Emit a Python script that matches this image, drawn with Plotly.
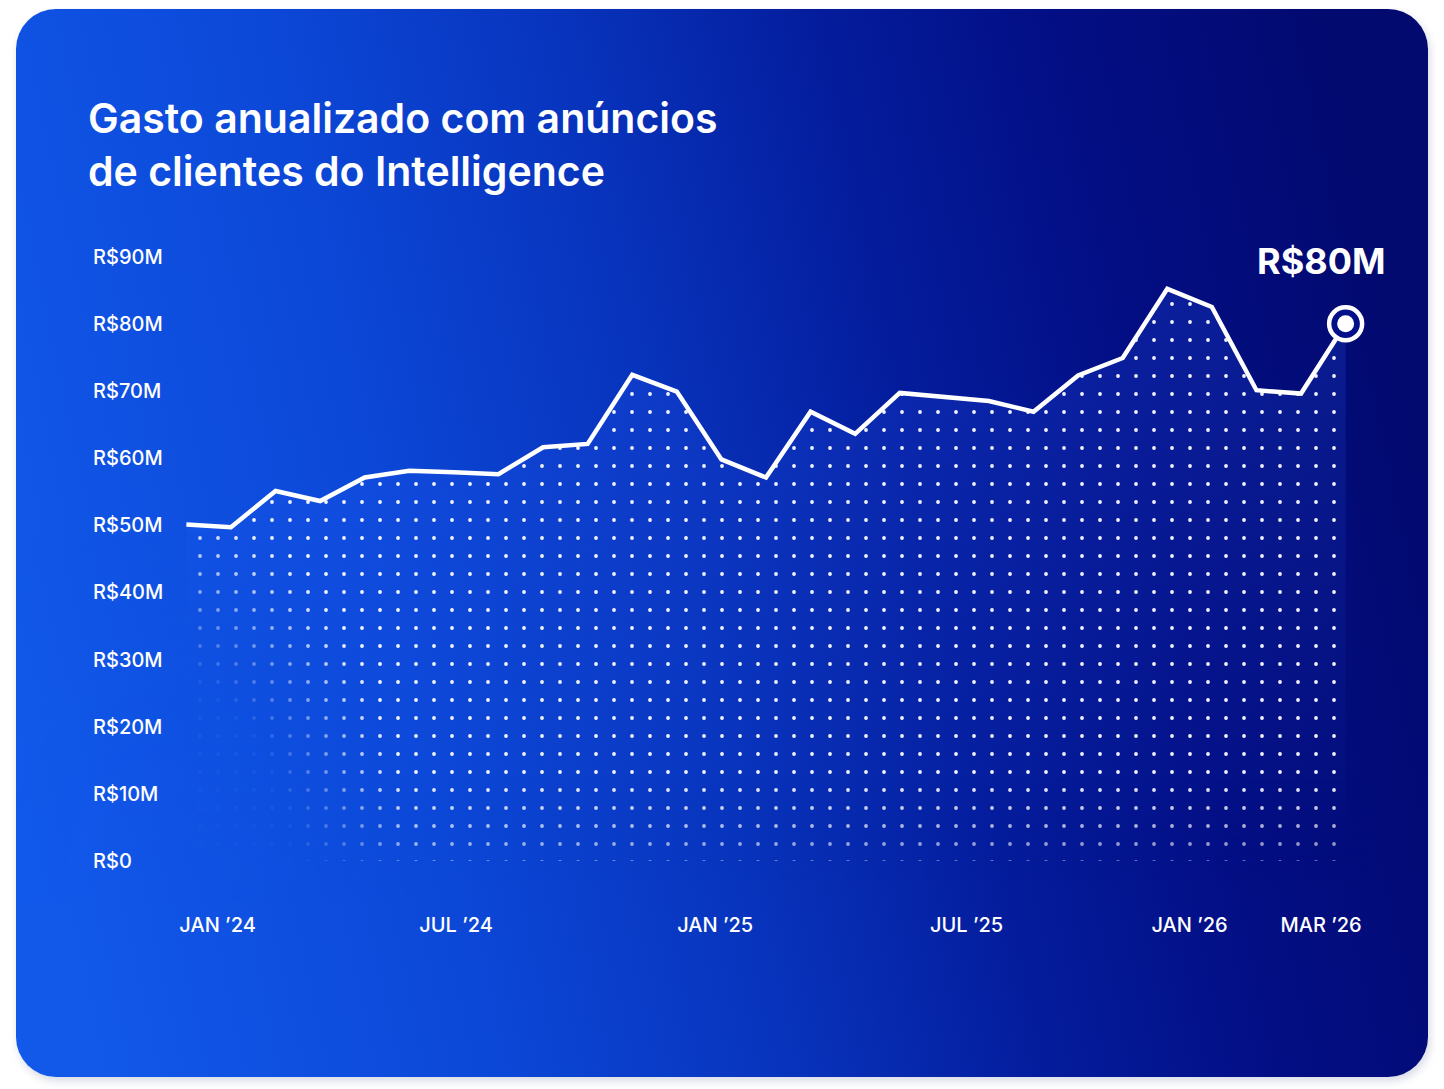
import base64
import plotly.graph_objects as go

W, H = 1444, 1089

months = ["Jan 2024", "Feb 2024", "Mar 2024", "Apr 2024", "May 2024", "Jun 2024",
          "Jul 2024", "Aug 2024", "Sep 2024", "Oct 2024", "Nov 2024", "Dec 2024",
          "Jan 2025", "Feb 2025", "Mar 2025", "Apr 2025", "May 2025", "Jun 2025",
          "Jul 2025", "Aug 2025", "Sep 2025", "Oct 2025", "Nov 2025", "Dec 2025",
          "Jan 2026", "Feb 2026", "Mar 2026"]
spend = [50.1, 49.7, 55.1, 53.6, 57.1, 58.1, 57.9, 57.6, 61.6, 62.1, 72.4, 69.9,
         59.8, 57.1, 66.9, 63.6, 69.7, 69.1, 68.5, 66.9, 72.3, 74.9, 85.2, 82.5,
         70.1, 69.6, 80.0]
month_idx = list(range(len(months)))

y_ticks = [0, 10, 20, 30, 40, 50, 60, 70, 80, 90]
y_labels = ["R$0", "R$10M", "R$20M", "R$30M", "R$40M", "R$50M",
            "R$60M", "R$70M", "R$80M", "R$90M"]
x_tick_pos = [0.7, 6.05, 11.86, 17.5, 22.5, 25.45]
x_tick_text = ["JAN ’24", "JUL ’24", "JAN ’25", "JUL ’25", "JAN ’26", "MAR ’26"]

title = "Gasto anualizado com anúncios<br>de clientes do Intelligence"
last_label = "R$80M"

# the page puts the figure 8px in from the corner, so work in figure pixels
ML, MR, MT, MB = 165, 93, 215, 236
PW, PH = W - ML - MR, H - MT - MB

FONT = "Inter, Roboto, sans-serif"

GRAD = """<linearGradient id="bg" gradientUnits="userSpaceOnUse" x1="8" y1="792" x2="1420" y2="492">
<stop offset="0" stop-color="#1259ea"/>
<stop offset="0.28" stop-color="#0c48d8"/>
<stop offset="0.48" stop-color="#0834bd"/>
<stop offset="0.66" stop-color="#041c9c"/>
<stop offset="0.82" stop-color="#030e84"/>
<stop offset="1" stop-color="#020a70"/>
</linearGradient>"""

card_svg = f"""<svg xmlns="http://www.w3.org/2000/svg" width="{W}" height="{H}" viewBox="0 0 {W} {H}">
<defs>{GRAD}
<filter id="sh" x="-5%" y="-5%" width="110%" height="110%"><feGaussianBlur stdDeviation="4"/></filter>
</defs>
<rect x="10" y="5" width="1412" height="1068" rx="40" fill="#8d96b8" opacity="0.35" filter="url(#sh)"/>
<rect x="8" y="1" width="1412" height="1068" rx="40" fill="url(#bg)"/>
</svg>"""

# same gradient laid over the bottom-left of the area so the dots fade out
fade_svg = f"""<svg xmlns="http://www.w3.org/2000/svg" width="{W}" height="{H}" viewBox="0 0 {W} {H}">
<defs>{GRAD}
<linearGradient id="vf" gradientUnits="userSpaceOnUse" x1="0" y1="770" x2="0" y2="862">
<stop offset="0" stop-color="#fff" stop-opacity="0"/>
<stop offset="1" stop-color="#fff" stop-opacity="0.55"/>
</linearGradient>
<radialGradient id="rf" gradientUnits="userSpaceOnUse" cx="0" cy="0" r="1"
 gradientTransform="translate(142,872) scale(260,380)">
<stop offset="0" stop-color="#fff" stop-opacity="1"/>
<stop offset="0.55" stop-color="#fff" stop-opacity="0.95"/>
<stop offset="1" stop-color="#fff" stop-opacity="0"/>
</radialGradient>
<mask id="m" maskUnits="userSpaceOnUse" x="0" y="0" width="{W}" height="{H}">
<rect x="162" y="524" width="1200" height="348" fill="url(#vf)"/>
<rect x="0" y="524" width="700" height="368" fill="url(#rf)"/>
</mask>
</defs>
<rect x="8" y="1" width="1412" height="1068" rx="40" fill="url(#bg)" mask="url(#m)"/>
</svg>"""


def svg_uri(s):
    return "data:image/svg+xml;base64," + base64.b64encode(s.encode()).decode()


img_common = dict(xref="paper", yref="paper", x=-ML / PW, y=1 + MT / PH,
                  sizex=W / PW, sizey=H / PH, xanchor="left", yanchor="top",
                  sizing="stretch")

fig = go.Figure()

fig.add_trace(go.Scatter(
    x=month_idx, y=spend, mode="none", fill="tozeroy",
    fillgradient=dict(type="vertical", start=0, stop=86,
                      colorscale=[[0, "rgba(40,95,255,0)"], [1, "rgba(40,95,255,0.22)"]]),
    hoverinfo="skip", showlegend=False,
))
fig.add_trace(go.Scatter(
    x=month_idx, y=spend, mode="lines", fill="tozeroy",
    line=dict(color="white", width=4.5),
    fillcolor="rgba(0,0,0,0)",
    fillpattern=dict(shape=".", fgcolor="white", fgopacity=0.95, bgcolor="rgba(0,0,0,0)",
                     size=18, solidity=0.035),
    hoverinfo="skip", showlegend=False,
))
# end point ring
fig.add_trace(go.Scatter(
    x=[month_idx[-1]], y=[spend[-1]], mode="markers",
    marker=dict(size=33, color="#03108a", line=dict(color="white", width=4.5)),
    cliponaxis=False, hoverinfo="skip", showlegend=False,
))
fig.add_trace(go.Scatter(
    x=[month_idx[-1]], y=[spend[-1]], mode="markers",
    marker=dict(size=17, color="white"),
    cliponaxis=False, hoverinfo="skip", showlegend=False,
))

annotations = []
for v, t in zip(y_ticks, y_labels):
    annotations.append(dict(
        xref="paper", yref="y", x=(83 - ML) / PW, y=v, text=t, showarrow=False,
        xanchor="left", yanchor="middle",
        font=dict(family=FONT, size=20, color="white", weight=500),
    ))
annotations.append(dict(
    x=month_idx[-1], y=spend[-1], xref="x", yref="y", text=last_label, showarrow=False,
    xshift=-25, yshift=63, xanchor="center", yanchor="middle",
    font=dict(family=FONT, size=36, color="white", weight=700),
))

fig.update_layout(
    width=W, height=H,
    margin=dict(l=ML, r=MR, t=MT, b=MB),
    paper_bgcolor="white", plot_bgcolor="rgba(0,0,0,0)",
    title=dict(text=title, x=80 / W, xanchor="left", xref="container",
               y=1 - 125 / H, yanchor="middle", yref="container",
               font=dict(family=FONT, size=41, color="white", weight=600)),
    xaxis=dict(range=[-0.3, 26.3], showgrid=False, zeroline=False, showline=False,
               tickvals=x_tick_pos, ticktext=x_tick_text, ticks="",
               ticklabelstandoff=50,
               tickfont=dict(family=FONT, size=20, color="white", weight=500)),
    yaxis=dict(range=[0, 95], showgrid=False, zeroline=False, showline=False,
               showticklabels=False),
    images=[dict(source=svg_uri(card_svg), layer="below", **img_common),
            dict(source=svg_uri(fade_svg), layer="above", **img_common)],
    annotations=annotations,
)

fig.write_html("out.html")
